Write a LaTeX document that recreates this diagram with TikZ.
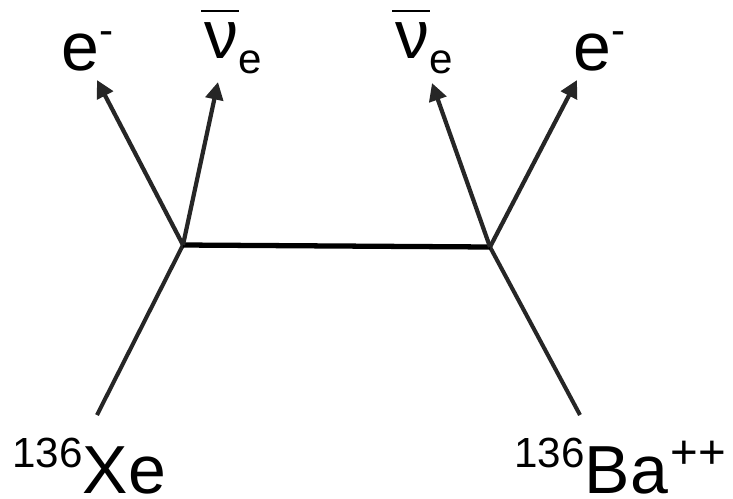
\documentclass[tikz,border=0pt]{standalone}
\usepackage{fontspec}
\setmainfont{Liberation Sans}
\usetikzlibrary{arrows.meta}
\newcommand{\bigf}{\fontsize{38.7}{40}\selectfont}
\newcommand{\sups}[1]{\raisebox{0.52cm}{\fontsize{24}{24}\selectfont #1}}
\newcommand{\subs}[1]{\raisebox{-0.3cm}{\fontsize{24}{24}\selectfont #1}}
\newcommand{\nubar}{\makebox[0pt][l]{\hspace{-0.06cm}\rule[0.92cm]{0.76cm}{0.04cm}}ν}

\begin{document}
\begin{tikzpicture}[
  x=0.02cm, y=-0.02cm,
  lbl/.style={inner sep=0pt, anchor=base west, font=\bigf},
  arr/.style={-{Triangle[length=10pt, width=10pt]}, line width=2.4pt, color=black!85},
  leg/.style={line width=2.3pt, color=black!85},
  prop/.style={line width=3pt, color=black},
]
\useasboundingbox (0,0) rectangle (733,498);

% vertices
\coordinate (vXe) at (183,245);
\coordinate (vBa) at (490,247);

% arrow tips and leg ends
\coordinate (tipEL)  at (97,80);
\coordinate (tipNuL) at (218,82);
\coordinate (tipNuR) at (432,83);
\coordinate (tipER)  at (577,80);
\coordinate (inXe)   at (97,415);
\coordinate (outBa)  at (580,415);

\node[lbl] (elecL) at (61,70)  {e\sups{-}};
\node[lbl] (nubL)  at (204,58) {\nubar\subs{e}};
\node[lbl] (nubR)  at (395,58) {\nubar\subs{e}};
\node[lbl] (elecR) at (573,70) {e\sups{-}};

\node[lbl] (xe) at (12,493)  {\sups{136}Xe};
\node[lbl] (ba) at (514,493) {\sups{136}Ba\hspace{0.06cm}\raisebox{0.5cm}{\fontsize{27}{27}\selectfont ++}};

\draw[leg]  (inXe) -- (vXe);
\draw[leg]  (vBa)  -- (outBa);
\draw[prop] (vXe)  -- (vBa);

\draw[arr] (vXe) -- (tipEL);
\draw[arr] (vXe) -- (tipNuL);
\draw[arr] (vBa) -- (tipNuR);
\draw[arr] (vBa) -- (tipER);

\end{tikzpicture}
\end{document}
